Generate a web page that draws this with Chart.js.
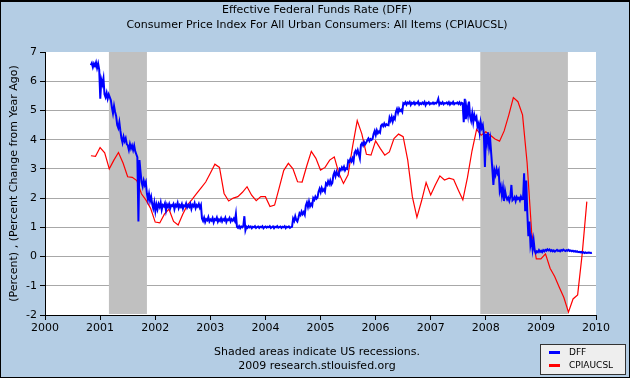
<!DOCTYPE html>
<html><head><meta charset="utf-8">
<script src="https://cdn.jsdelivr.net/npm/chart.js@4.4.1/dist/chart.umd.min.js"></script>
<style>html,body{margin:0;padding:0;background:#B4CDE4;overflow:hidden}canvas{display:block}</style>
</head><body><canvas id="c" width="630" height="378"></canvas>
<script>
// ---------- text ----------
const titleLines = ['Effective Federal Funds Rate (DFF)', 'Consumer Price Index For All Urban Consumers: All Items (CPIAUCSL)'];
const yAxisTitle = '(Percent) , (Percent Change from Year Ago)';
const footnoteLines = ['Shaded areas indicate US recessions.', '2009 research.stlouisfed.org'];
const seriesNames = ['DFF', 'CPIAUCSL'];
const seriesColors = ['#0000FF', '#FF0000'];

// ---------- axes ----------
const xTickYears = [2000, 2001, 2002, 2003, 2004, 2005, 2006, 2007, 2008, 2009, 2010];
const yTickValues = [-2, -1, 0, 1, 2, 3, 4, 5, 6, 7];

// ---------- recessions (decimal years) ----------
const recessionStarts = [2001.16, 2007.90];
const recessionEnds = [2001.85, 2009.49];

// ---------- CPIAUCSL, % change from year ago, monthly from Nov 2000 ----------
const cpiFirstYear = 2000;
const cpiFirstMonth = 10; // Nov (0 = Jan)
const cpiValues = [
  3.45, 3.43, // 2000 Nov-Dec
  3.73, 3.55, 3.00, 3.30, 3.56, 3.20, 2.73, 2.71, 2.60, 2.15, 1.93, 1.65, // 2001
  1.18, 1.15, 1.45, 1.62, 1.20, 1.08, 1.45, 1.76, 1.95, 2.15, 2.35, 2.55, // 2002
  2.85, 3.16, 3.05, 2.16, 1.90, 2.00, 2.05, 2.20, 2.39, 2.10, 1.91, 2.05, // 2003
  2.05, 1.71, 1.76, 2.35, 2.95, 3.19, 3.00, 2.56, 2.55, 3.10, 3.60, 3.36, // 2004
  2.96, 3.05, 3.30, 3.41, 2.85, 2.50, 2.80, 3.78, 4.65, 4.20, 3.50, 3.47, // 2005
  3.96, 3.70, 3.47, 3.58, 4.04, 4.19, 4.10, 3.30, 2.05, 1.34, 1.90, 2.53, // 2006
  2.11, 2.45, 2.76, 2.62, 2.68, 2.64, 2.28, 1.94, 2.70, 3.62, 4.35, 4.15, // 2007
  4.27, 4.15, 4.02, 3.95, 4.30, 4.84, 5.44, 5.30, 4.85, 3.20, 0.80, -0.08, // 2008
  -0.08, 0.09, -0.40, -0.68, -1.05, -1.40, -1.90, -1.45, -1.31, 0.10, 1.88 // 2009 Jan-Nov
];

// ---------- DFF, weekly readings from 2000.83 (daily spikes kept) ----------
const dffFirstYear = 2000.83;
const dffPerYear = 52;
const dffValues = [
  6.55, 6.62, 6.48, 6.60, 6.52, 6.64, 6.45, 6.60, 6.40,
  5.40, 6.05, 5.90, 6.10, 5.55, 5.45, 5.60, 5.40, 5.55, 5.45, 5.35,
  5.10, 4.90, 5.15, 4.95, 4.80,
  4.50, 4.40, 4.60, 4.30,
  4.05, 3.90, 4.10, 3.95, 4.05, 3.85,
  3.80, 3.65, 3.85, 3.70, 3.80, 3.65, 3.80, 3.60,
  3.50, 3.40,
  1.20,
  3.30, 2.90,
  2.55, 2.40, 2.60, 2.45, 2.55,
  2.15, 1.95, 2.15, 1.90, 2.05, 1.80,
  1.65, 1.85, 1.55,
  1.78, 1.62, 1.80, 1.70, 1.85, 1.60, 1.76, 1.72, 1.82, 1.58,
  1.78, 1.70, 1.80, 1.65, 1.76, 1.73, 1.80, 1.62, 1.77, 1.72,
  1.84, 1.66, 1.76, 1.70, 1.80, 1.64, 1.75, 1.72, 1.82, 1.68,
  1.76, 1.70, 1.80, 1.63, 1.77, 1.72, 1.83, 1.66, 1.76, 1.71,
  1.80, 1.67, 1.76,
  1.30, 1.22, 1.33, 1.18, 1.28, 1.24, 1.35, 1.20, 1.27, 1.23,
  1.32, 1.17, 1.28, 1.25, 1.34, 1.19, 1.27, 1.22, 1.31, 1.20,
  1.28, 1.24, 1.33, 1.18, 1.27, 1.25, 1.32, 1.20, 1.28, 1.23,
  1.30, 1.22, 1.46,
  1.02, 0.98, 1.04, 0.97, 1.03, 1.00, 1.05, 1.38, 0.90, 1.02,
  0.98, 1.04, 1.00, 1.03, 0.97, 1.02, 1.00, 1.04, 0.98, 1.01,
  1.03, 0.98, 1.02, 1.00, 1.04, 0.97, 1.01, 1.03, 0.99, 1.02,
  1.00, 1.04, 0.98, 1.01, 1.03, 0.97, 1.02, 1.00, 1.04, 0.99,
  1.01, 1.03, 0.98, 1.02, 1.00, 1.04, 0.97, 1.02, 1.00, 1.03,
  0.98, 1.01, 1.02,
  1.30, 1.22, 1.38, 1.25, 1.20, 1.33,
  1.48, 1.42, 1.54, 1.45, 1.52, 1.43,
  1.75, 1.85, 1.70, 1.88, 1.72, 1.80, 1.74,
  2.00, 1.94, 2.05, 1.98, 2.02,
  2.22, 2.32, 2.20, 2.35, 2.25, 2.30, 2.22,
  2.50, 2.45, 2.58, 2.48, 2.60, 2.46, 2.52,
  2.78, 2.88, 2.75, 2.90, 2.80, 2.76,
  3.00, 2.96, 3.05, 2.98, 3.07, 2.95, 3.02, 3.00,
  3.28, 3.24, 3.34, 3.26, 3.36, 3.25,
  3.55, 3.62, 3.52, 3.64, 3.50, 3.36,
  3.82, 3.88, 3.80, 3.92, 3.84, 3.90,
  3.98, 4.04, 3.95, 4.02, 3.99, 4.03,
  4.20, 4.30, 4.16, 4.32, 4.22, 4.28, 4.24,
  4.48, 4.52, 4.46, 4.55, 4.47, 4.53, 4.50, 4.49,
  4.75, 4.65, 4.78, 4.62, 4.76, 4.70,
  4.95, 5.05, 4.92, 5.06, 4.98, 5.02, 4.95,
  5.25, 5.22, 5.28, 5.20, 5.27, 5.24, 5.29, 5.19, 5.26, 5.23,
  5.28, 5.21, 5.26, 5.24, 5.30, 5.20, 5.25, 5.22, 5.27, 5.23,
  5.29, 5.18, 5.26, 5.24, 5.28, 5.21, 5.25, 5.23, 5.27, 5.22,
  5.26, 5.24, 5.29, 5.40, 5.20, 5.26, 5.23, 5.28, 5.21, 5.25,
  5.24, 5.27, 5.22, 5.28, 5.20, 5.26, 5.23, 5.29, 5.21, 5.25,
  5.24, 5.27, 5.22, 5.28, 5.21, 5.26, 5.24,
  4.60, 5.40, 4.70, 5.10, 4.85, 5.30,
  4.80, 4.65, 4.90, 4.60, 4.85, 4.70, 4.78,
  4.45, 4.55, 4.25, 4.60, 4.40, 4.50, 4.20,
  3.07, 4.20, 3.90, 4.25, 3.75, 4.00,
  3.50, 3.00, 2.45, 2.95, 2.80, 3.00, 2.85, 2.95,
  2.25, 2.40, 2.10, 2.35, 1.90, 2.25, 2.05,
  1.95, 2.02, 1.90, 2.05, 2.45, 1.92, 1.96, 2.03, 1.90, 2.04, 1.97, 2.01, 1.92, 2.05, 1.96,
  1.97, 2.85, 1.55, 2.60, 1.50, 0.70, 1.20, 0.40, 0.60, 0.25, 0.55, 0.20,
  0.12, 0.18, 0.15, 0.22, 0.16, 0.20, 0.15, 0.22, 0.18,
  0.23, 0.20, 0.25, 0.21, 0.24, 0.19, 0.22, 0.18,
  0.21, 0.17, 0.20, 0.23, 0.19, 0.21, 0.18, 0.22, 0.20,
  0.24, 0.21, 0.19, 0.22, 0.20, 0.23, 0.19, 0.21,
  0.18, 0.20, 0.17, 0.19, 0.16, 0.18, 0.15, 0.16,
  0.14, 0.16, 0.13, 0.15, 0.12, 0.14, 0.12, 0.13, 0.14, 0.13, 0.12, 0.13
];

// ---------- build library data ----------
const cpiPoints = cpiValues.map((v, i) => ({ x: cpiFirstYear + (cpiFirstMonth + i) / 12, y: v }));
const dffPoints = dffValues.map((v, i) => ({ x: dffFirstYear + i / dffPerYear, y: v }));

const BG = '#B4CDE4';
const FONT = '"DejaVu Sans", Verdana, sans-serif';

const decor = {
  id: 'decor',
  beforeDraw(chart) {
    const { ctx, chartArea: a } = chart;
    ctx.save();
    ctx.fillStyle = BG;
    ctx.fillRect(0, 0, chart.width, chart.height);
    ctx.fillStyle = '#FFFFFF';
    ctx.fillRect(a.left, a.top, a.right - a.left, a.bottom - a.top);
    ctx.restore();
  },
  beforeDatasetsDraw(chart) {
    const { ctx, chartArea: a, scales: { x } } = chart;
    ctx.save();
    ctx.fillStyle = '#C0C0C0';
    recessionStarts.forEach((s, i) => {
      const l = x.getPixelForValue(s);
      const r = x.getPixelForValue(recessionEnds[i]);
      ctx.fillRect(l, a.top, r - l, a.bottom - a.top - 1);
    });
    ctx.restore();
  },
  afterDraw(chart) {
    const { ctx } = chart;
    ctx.save();
    ctx.fillStyle = '#000';
    ctx.textAlign = 'center';
    ctx.textBaseline = 'middle';
    ctx.font = '11px ' + FONT;
    ctx.fillText(titleLines[0], 317, 10);
    ctx.fillText(titleLines[1], 317, 25);
    ctx.fillText(footnoteLines[0], 317, 352);
    ctx.fillText(footnoteLines[1], 317, 366);

    // legend
    const lx = 540.5, ly = 344.5, lw = 85, lh = 30;
    ctx.fillStyle = '#EEEEEE';
    ctx.fillRect(lx, ly, lw, lh);
    ctx.strokeStyle = '#333333';
    ctx.lineWidth = 1;
    ctx.strokeRect(lx, ly, lw, lh);
    ctx.font = '9px ' + FONT;
    ctx.textAlign = 'left';
    chart.data.datasets.forEach((ds, i) => {
      const yy = ly + 8 + i * 13;
      ctx.strokeStyle = ds.borderColor;
      ctx.lineWidth = 3;
      ctx.beginPath();
      ctx.moveTo(549, yy);
      ctx.lineTo(560, yy);
      ctx.stroke();
      ctx.fillStyle = '#000';
      ctx.fillText(ds.label, 569, yy);
    });

    // outer frame
    ctx.strokeStyle = '#000';
    ctx.lineWidth = 1;
    ctx.strokeRect(0.5, 0.5, chart.width - 1, chart.height - 1);
    ctx.beginPath();
    ctx.moveTo(0, 1.5); ctx.lineTo(chart.width, 1.5); ctx.stroke();
    ctx.restore();
  }
};

Chart.defaults.color = '#000';
Chart.defaults.font.family = FONT;

new Chart(document.getElementById('c'), {
  type: 'line',
  data: {
    datasets: [
      { label: seriesNames[0], data: dffPoints, borderColor: seriesColors[0], borderWidth: 2, pointRadius: 0, tension: 0, fill: false },
      { label: seriesNames[1], data: cpiPoints, borderColor: seriesColors[1], borderWidth: 1.2, pointRadius: 0, tension: 0, fill: false }
    ]
  },
  options: {
    responsive: false,
    animation: false,
    devicePixelRatio: 1,
    layout: { padding: { top: 52, right: 34, bottom: 0, left: 0 } },
    plugins: { legend: { display: false }, title: { display: false }, tooltip: { enabled: false } },
    scales: {
      x: {
        type: 'linear',
        min: xTickYears[0],
        max: xTickYears[xTickYears.length - 1],
        afterBuildTicks(scale) { scale.ticks = xTickYears.map(v => ({ value: v })); },
        afterFit(scale) { scale.height = 63; },
        ticks: { callback: v => String(v), font: { size: 11 }, color: '#000', padding: 2, maxRotation: 0, autoSkip: false },
        grid: { drawOnChartArea: false, tickLength: 5, tickColor: '#000', color: '#000' },
        border: { color: '#000', width: 1 }
      },
      y: {
        min: yTickValues[0],
        max: yTickValues[yTickValues.length - 1],
        afterBuildTicks(scale) { scale.ticks = yTickValues.map(v => ({ value: v })); },
        afterFit(scale) { scale.width = 45; },
        ticks: { font: { size: 11 }, color: '#000', padding: 3 },
        grid: {
          color: c => (c.tick && c.tick.value === yTickValues[yTickValues.length - 1]) ? 'rgba(0,0,0,0)' : '#A8A8A8',
          tickColor: '#000', tickLength: 5, lineWidth: 1
        },
        border: { color: '#000', width: 1 },
        title: { display: true, text: yAxisTitle, font: { size: 11 }, color: '#000', padding: { top: 8, bottom: 0 } }
      }
    }
  },
  plugins: [decor]
});
</script>
</body></html>
